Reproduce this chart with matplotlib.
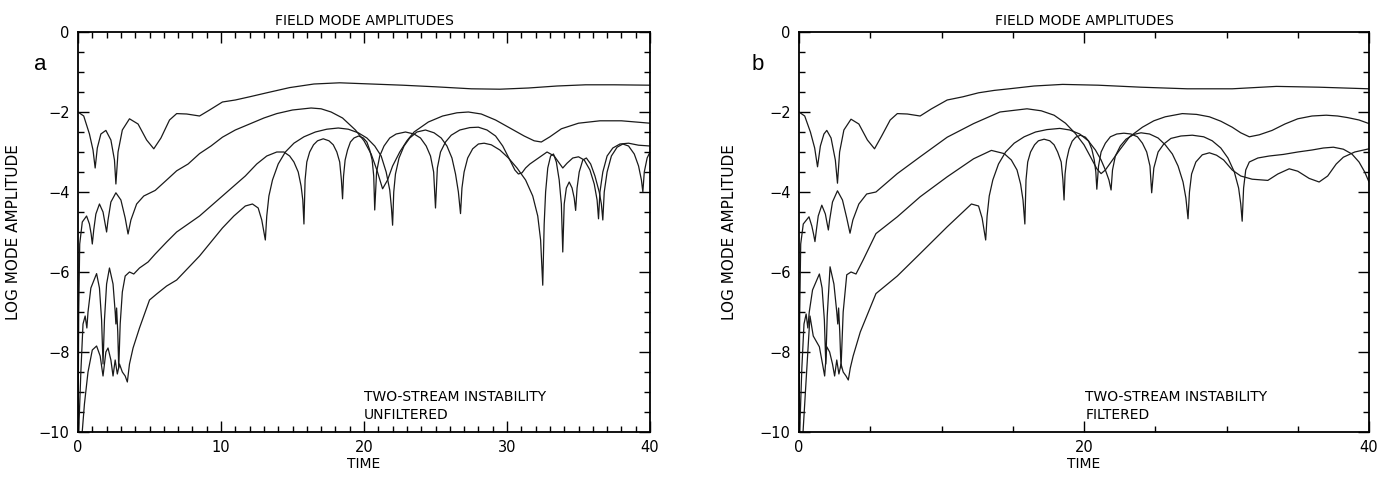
import matplotlib
matplotlib.use("Agg")
import matplotlib.pyplot as plt
from matplotlib.ticker import MultipleLocator


# ---- panel a (unfiltered): four mode amplitudes, log10 ----
ta_1 = [0, 0.4, 0.8, 1.05, 1.2, 1.35, 1.6, 1.95, 2.3, 2.55, 2.65, 2.8, 3.1, 3.6, 4.2, 4.8,
        5.3, 5.8, 6.4, 6.9, 7.6, 8.5, 9.2, 10.1, 11.0, 12.0, 13.2, 14.8, 16.5, 18.3, 20.5,
        22.7, 25.0, 27.5, 29.5, 31.5, 33.5, 35.5, 37.5, 40]
ya_1 = [-2.0, -2.1, -2.55, -2.95, -3.4, -2.9, -2.55, -2.46, -2.7, -3.2, -3.8, -3.0, -2.45,
        -2.17, -2.3, -2.7, -2.92, -2.65, -2.2, -2.04, -2.05, -2.1, -1.95, -1.75, -1.7, -1.62,
        -1.52, -1.39, -1.3, -1.27, -1.3, -1.33, -1.37, -1.42, -1.43, -1.4, -1.35, -1.32,
        -1.32, -1.33]

ta_2 = [0.0, 0.05, 0.12, 0.3, 0.6, 0.8, 0.92, 1.0, 1.1, 1.25, 1.5, 1.75, 1.9, 2.0, 2.1, 2.3,
        2.65, 3.0, 3.3, 3.5, 3.7, 4.1, 4.6, 5.4, 6.2, 6.9, 7.7, 8.5, 9.3, 10.1, 11.0, 12.0,
        13.0, 13.9, 15.0, 16.3, 17.0, 17.7, 18.5, 19.4, 20.0, 20.5, 20.9, 21.3, 21.65, 22.0,
        22.5, 23.0, 23.5, 24.5, 25.5, 26.5, 27.3, 28.2, 29.2, 30.2, 31.2, 31.9, 32.4, 33.0,
        33.8, 35.0, 36.5, 38.0, 39.0, 40.0]
ya_2 = [-10.5, -7.0, -5.3, -4.75, -4.6, -4.8, -5.05, -5.3, -4.95, -4.55, -4.3, -4.5, -4.8,
        -5.0, -4.7, -4.25, -4.02, -4.2, -4.65, -5.05, -4.7, -4.3, -4.1, -3.96, -3.7, -3.47,
        -3.3, -3.04, -2.85, -2.63, -2.45, -2.3, -2.15, -2.04, -1.95, -1.9, -1.92, -2.0,
        -2.15, -2.45, -2.72, -3.05, -3.45, -3.92, -3.7, -3.35, -3.0, -2.72, -2.5, -2.25,
        -2.1, -2.02, -2.0, -2.05, -2.2, -2.4, -2.6, -2.72, -2.75, -2.62, -2.42, -2.28, -2.22,
        -2.22, -2.25, -2.28]

ta_3 = [0.0, 0.2, 0.35, 0.5, 0.62, 0.7, 0.9, 1.3, 1.5, 1.65, 1.75, 1.85, 2.0, 2.2, 2.45,
        2.6, 2.65, 2.7, 2.78, 2.85, 2.95, 3.1, 3.3, 3.6, 3.9, 4.3, 4.9, 5.4, 6.2, 6.9, 7.7,
        8.5, 9.3, 10.1, 10.9, 11.7, 12.5, 13.2, 13.9, 14.4, 14.8, 15.1, 15.4, 15.6, 15.72,
        15.8, 15.88, 16.0, 16.2, 16.47, 16.75, 17.15, 17.55, 17.85, 18.1, 18.3, 18.42, 18.5,
        18.57, 18.68, 18.85, 19.05, 19.3, 19.62, 19.95, 20.2, 20.4, 20.57, 20.68, 20.75,
        20.88, 21.1, 21.4, 21.8, 22.25, 22.9, 23.5, 23.95, 24.35, 24.65, 24.87, 25.0, 25.13,
        25.35, 25.7, 26.1, 26.7, 27.4, 28.0, 28.6, 29.2, 29.7, 30.2, 30.55, 30.8, 31.05, 31.3,
        31.6, 32.2, 32.8, 33.3, 33.7, 33.9, 34.2, 34.6, 35.0, 35.4, 35.8, 36.1, 36.3, 36.4,
        36.5, 36.7, 37.0, 37.4, 37.9, 38.5, 39.2, 40.0]
ya_3 = [-10.5, -8.5, -7.3, -7.1, -7.4, -7.0, -6.4, -6.04, -6.4, -7.2, -8.3, -7.2, -6.3,
        -5.9, -6.3, -7.0, -7.3, -6.9, -7.5, -8.4, -7.3, -6.5, -6.1, -6.0, -6.05, -5.9, -5.75,
        -5.55, -5.25, -5.0, -4.8, -4.6, -4.35, -4.1, -3.85, -3.6, -3.3, -3.1, -3.0, -3.0,
        -3.1, -3.25, -3.5, -3.85, -4.2, -4.8, -3.7, -3.25, -3.0, -2.82, -2.72, -2.67, -2.72,
        -2.82, -3.0, -3.25, -3.7, -4.17, -3.6, -3.2, -2.95, -2.75, -2.65, -2.6, -2.65, -2.75,
        -2.95, -3.2, -3.6, -4.45, -3.5, -3.1, -2.85, -2.65, -2.55, -2.5, -2.55, -2.65, -2.85,
        -3.1, -3.5, -4.4, -3.4, -3.0, -2.75, -2.58, -2.45, -2.39, -2.38, -2.45, -2.6, -2.85,
        -3.2, -3.45, -3.55, -3.52, -3.4, -3.3, -3.15, -3.0, -3.1, -3.3, -3.4, -3.28, -3.15,
        -3.12, -3.2, -3.45, -3.8, -4.2, -4.67, -4.0, -3.5, -3.1, -2.9, -2.8, -2.78, -2.83,
        -2.85]

ta_4 = [0.0, 0.25, 0.45, 0.7, 1.0, 1.3, 1.55, 1.75, 1.95, 2.1, 2.3, 2.45, 2.6, 2.75, 2.9,
        3.1, 3.3, 3.45, 3.6, 3.85, 4.3, 5.0, 5.5, 6.2, 6.9, 7.7, 8.5, 9.3, 10.1, 10.9, 11.7,
        12.2, 12.6, 12.85, 13.1, 13.2, 13.35, 13.6, 14.0, 14.5, 15.1, 15.8, 16.6, 17.4, 18.2,
        18.9, 19.6, 20.2, 20.75, 21.2, 21.55, 21.8, 21.92, 22.0, 22.08, 22.2, 22.45, 22.8,
        23.2, 23.7, 24.3, 24.9, 25.4, 25.8, 26.15, 26.4, 26.6, 26.75, 26.85, 27.0, 27.25,
        27.6, 28.0, 28.4, 28.9, 29.5, 30.1, 30.7, 31.3, 31.8, 32.15, 32.35, 32.5, 32.6, 32.7,
        32.85, 33.05, 33.25, 33.45, 33.65, 33.8, 33.9, 34.0, 34.15, 34.35, 34.55, 34.7, 34.8,
        34.9, 35.05, 35.3, 35.55, 35.85, 36.15, 36.45, 36.6, 36.7, 36.8, 37.0, 37.3, 37.7,
        38.1, 38.5, 38.9, 39.2, 39.4, 39.5, 39.6, 39.8, 40.0]
ya_4 = [-10.5, -10.2, -9.3, -8.5, -7.95, -7.85, -8.1, -8.6, -8.0, -7.9, -8.2, -8.6, -8.2,
        -8.55, -8.3, -8.5, -8.6, -8.75, -8.3, -7.9, -7.4, -6.7, -6.55, -6.35, -6.2, -5.9,
        -5.6, -5.25, -4.9, -4.6, -4.35, -4.3, -4.4, -4.7, -5.2, -4.6, -4.1, -3.7, -3.3, -3.0,
        -2.78, -2.62, -2.5, -2.43, -2.4, -2.43, -2.52, -2.65, -2.85, -3.1, -3.5, -3.95, -4.4,
        -4.83, -4.0, -3.55, -3.15, -2.85, -2.65, -2.5, -2.45, -2.52, -2.65, -2.85, -3.15,
        -3.55, -4.0, -4.54, -3.9, -3.5, -3.15, -2.92, -2.8, -2.78, -2.82, -2.95, -3.15, -3.4,
        -3.7, -4.1, -4.6, -5.2, -6.33, -4.8, -4.0, -3.4, -3.1, -3.05, -3.25, -3.7, -4.3, -5.5,
        -4.3, -3.9, -3.75, -3.9, -4.15, -4.46, -3.9, -3.5, -3.2, -3.15, -3.3, -3.6, -4.0,
        -4.3, -4.7, -4.0, -3.5, -3.1, -2.88, -2.8, -2.85, -3.05, -3.35, -3.7, -4.0, -3.5,
        -3.15, -3.0]

# ---- panel b (filtered) ----
tb_1 = [0, 0.4, 0.8, 1.1, 1.3, 1.5, 1.75, 1.95, 2.25, 2.55, 2.7, 2.85, 3.15, 3.65, 4.2, 4.8,
        5.3, 5.8, 6.4, 6.9, 7.6, 8.5, 9.3, 10.4, 11.5, 12.6, 13.7, 14.75, 16.5, 18.5, 21.0,
        24.0, 27.25, 30.4, 33.5, 36.5, 40]
yb_1 = [-2.0, -2.1, -2.5, -2.9, -3.37, -2.85, -2.55, -2.46, -2.65, -3.2, -3.78, -3.0, -2.45,
        -2.18, -2.3, -2.7, -2.92, -2.6, -2.2, -2.04, -2.05, -2.1, -1.92, -1.7, -1.62, -1.52,
        -1.46, -1.42, -1.35, -1.31, -1.33, -1.38, -1.42, -1.42, -1.36, -1.38, -1.42]

tb_2 = [0.0, 0.05, 0.12, 0.3, 0.7, 0.9, 1.02, 1.12, 1.22, 1.35, 1.6, 1.85, 1.98, 2.06,
        2.15, 2.35, 2.7, 3.05, 3.35, 3.58, 3.78, 4.2, 4.75, 5.4, 6.9, 8.5, 10.4, 12.25, 14.1,
        16.0, 17.0, 17.9, 18.7, 19.4, 20.0, 20.5, 20.9, 21.2, 21.5, 21.9, 22.5, 23.2, 24.1,
        24.9, 25.7, 26.9, 27.9, 28.8, 29.6, 30.4, 31.0, 31.6, 32.3, 33.2, 34.1, 35.0, 36.0,
        37.0, 37.8, 38.5, 39.3, 40.0]
yb_2 = [-10.5, -7.0, -5.3, -4.8, -4.62, -4.85, -5.05, -5.24, -4.95, -4.6, -4.33, -4.55,
        -4.8, -4.95, -4.7, -4.25, -3.97, -4.2, -4.65, -5.03, -4.7, -4.3, -4.05, -4.0, -3.54,
        -3.12, -2.63, -2.29, -2.0, -1.92, -1.97, -2.08, -2.28, -2.54, -2.82, -3.15, -3.42,
        -3.54, -3.45, -3.25, -2.95, -2.62, -2.38, -2.22, -2.12, -2.04, -2.06, -2.12, -2.23,
        -2.38, -2.52, -2.62, -2.57, -2.46, -2.3, -2.17, -2.1, -2.08, -2.1, -2.14, -2.2, -2.29]

tb_3 = [0.0, 0.2, 0.35, 0.5, 0.62, 0.72, 0.95, 1.43, 1.62, 1.78, 1.88, 1.98, 2.18, 2.45,
        2.65, 2.72, 2.78, 2.86, 2.95, 3.1, 3.35, 3.65, 4.0, 4.5, 5.4, 6.9, 8.5, 10.4, 12.25,
        13.5, 14.4, 14.9, 15.3, 15.55, 15.72, 15.85, 15.93, 16.05, 16.25, 16.53, 16.8, 17.2,
        17.6, 17.9, 18.15, 18.4, 18.52, 18.6, 18.67, 18.78, 18.95, 19.17, 19.42, 19.75, 20.1,
        20.33, 20.55, 20.72, 20.83, 20.9, 21.02, 21.2, 21.5, 21.85, 22.3, 22.8, 23.3, 23.75,
        24.1, 24.4, 24.63, 24.75, 24.9, 25.2, 25.6, 26.1, 26.8, 27.6, 28.4, 29.0, 29.6, 30.1,
        30.55, 30.85, 31.0, 31.1, 31.2, 31.35, 31.6, 32.2, 33.0, 34.0, 35.0, 36.0, 36.8, 37.5,
        38.2, 38.8, 39.3, 39.7, 40.0]
yb_3 = [-10.5, -8.4, -7.3, -7.05, -7.4, -7.0, -6.45, -6.05, -6.4, -7.2, -8.3, -7.1, -5.87,
        -6.3, -7.0, -7.3, -6.9, -7.5, -8.4, -7.0, -6.07, -6.0, -6.05, -5.7, -5.04, -4.62,
        -4.12, -3.62, -3.17, -2.96, -3.04, -3.2, -3.45, -3.8, -4.2, -4.8, -3.7, -3.25, -3.0,
        -2.82, -2.72, -2.68, -2.72, -2.82, -3.0, -3.25, -3.7, -4.2, -3.55, -3.2, -2.93, -2.73,
        -2.63, -2.58, -2.63, -2.73, -2.93, -3.2, -3.5, -3.93, -3.35, -3.0, -2.78, -2.62,
        -2.55, -2.53, -2.55, -2.62, -2.78, -3.0, -3.35, -4.02, -3.4, -3.0, -2.8, -2.66, -2.6,
        -2.58, -2.62, -2.72, -2.9, -3.15, -3.5, -3.9, -4.3, -4.73, -3.9, -3.45, -3.25, -3.15,
        -3.1, -3.06, -3.0, -2.95, -2.9, -2.88, -2.93, -3.05, -3.25, -3.5, -3.75]

tb_4 = [0.0, 0.25, 0.45, 0.77, 1.0, 1.43, 1.65, 1.8, 1.95, 2.15, 2.35, 2.5, 2.65, 2.8, 2.95,
        3.1, 3.3, 3.46, 3.6, 3.8, 4.3, 5.4, 6.9, 8.5, 10.4, 12.1, 12.6, 12.85, 13.1, 13.2,
        13.35, 13.6, 14.0, 14.5, 15.1, 15.8, 16.6, 17.4, 18.3, 19.0, 19.7, 20.3, 20.8, 21.2,
        21.5, 21.75, 21.9, 22.0, 22.2, 22.55, 22.95, 23.5, 24.0, 24.6, 25.2, 25.7, 26.2, 26.6,
        26.95, 27.15, 27.3, 27.4, 27.55, 27.85, 28.3, 28.8, 29.3, 29.8, 30.4, 31.0, 31.8,
        32.9, 33.6, 34.4, 35.0, 35.8, 36.5, 37.1, 37.7, 38.2, 39.0, 40.0]
yb_4 = [-10.5, -10.2, -9.0, -7.1, -7.6, -7.87, -8.3, -8.6, -7.87, -8.0, -8.3, -8.6, -8.2,
        -8.55, -8.3, -8.5, -8.6, -8.7, -8.4, -8.1, -7.5, -6.54, -6.1, -5.54, -4.87, -4.3,
        -4.35, -4.65, -5.2, -4.6, -4.1, -3.7, -3.3, -3.0, -2.78, -2.62, -2.5, -2.44, -2.41,
        -2.45, -2.55, -2.72, -2.95, -3.2, -3.45, -3.7, -3.95, -3.45, -3.1, -2.85, -2.68,
        -2.56, -2.52, -2.55, -2.65, -2.82, -3.05, -3.35, -3.75, -4.15, -4.67, -4.0, -3.55,
        -3.25, -3.07, -3.02, -3.08, -3.2, -3.45, -3.6, -3.68, -3.71, -3.55, -3.42, -3.48,
        -3.66, -3.75, -3.6, -3.3, -3.13, -3.0, -2.92]

x_ticks_a = [0, 10, 20, 30, 40]
x_ticks_b = [0, 20, 40]
y_ticks = [0, -2, -4, -6, -8, -10]

W, H = 1393, 480


def style_axes(ax, xticks, xminor):
    ax.set_xlim(0, 40)
    ax.set_ylim(-10, 0)
    ax.set_xticks(xticks)
    ax.set_yticks(y_ticks)
    ax.xaxis.set_minor_locator(MultipleLocator(xminor))
    ax.yaxis.set_minor_locator(MultipleLocator(0.5))
    ax.tick_params(which="both", direction="in", top=True, right=True, width=1.0,
                   labelsize=10.5, pad=6)
    ax.tick_params(which="major", length=8)
    ax.tick_params(which="minor", length=4)
    for spine in ax.spines.values():
        spine.set_linewidth(1.3)
    ax.set_title("FIELD MODE AMPLITUDES", fontsize=10, pad=5)
    ax.set_xlabel("TIME", fontsize=10)
    ax.set_ylabel("LOG MODE AMPLITUDE", fontsize=11)
    ax.xaxis.set_label_coords(0.5, -0.062)


def main():
    fig = plt.figure(figsize=(W / 100, H / 100), dpi=100)
    ax_a = fig.add_axes([78 / W, 48 / H, 572 / W, 400 / H])
    ax_b = fig.add_axes([799 / W, 48 / H, 570 / W, 400 / H])

    line = dict(color="#1a1a1a", linewidth=0.9)
    for t, y in [(ta_1, ya_1), (ta_2, ya_2), (ta_3, ya_3), (ta_4, ya_4)]:
        ax_a.plot(t, y, **line)
    for t, y in [(tb_1, yb_1), (tb_2, yb_2), (tb_3, yb_3), (tb_4, yb_4)]:
        ax_b.plot(t, y, **line)

    style_axes(ax_a, x_ticks_a, 1)
    style_axes(ax_b, x_ticks_b, 5)
    ax_a.yaxis.set_label_coords(-0.1, 0.5)
    ax_b.yaxis.set_label_coords(-0.108, 0.5)

    ax_a.text(20.0, -9.35, "TWO-STREAM INSTABILITY\nUNFILTERED", ha="left", va="center",
              fontsize=10, linespacing=1.3)
    ax_b.text(20.1, -9.35, "TWO-STREAM INSTABILITY\nFILTERED", ha="left", va="center",
              fontsize=10, linespacing=1.3)

    fig.text(40 / W, 1 - 65 / H, "a", fontsize=16, ha="center", va="center",
             family="Liberation Sans")
    fig.text(758 / W, 1 - 65 / H, "b", fontsize=16, ha="center", va="center",
             family="Liberation Sans")

    fig.savefig("out.png", dpi=100)
    plt.close(fig)


if __name__ == "__main__":
    main()
